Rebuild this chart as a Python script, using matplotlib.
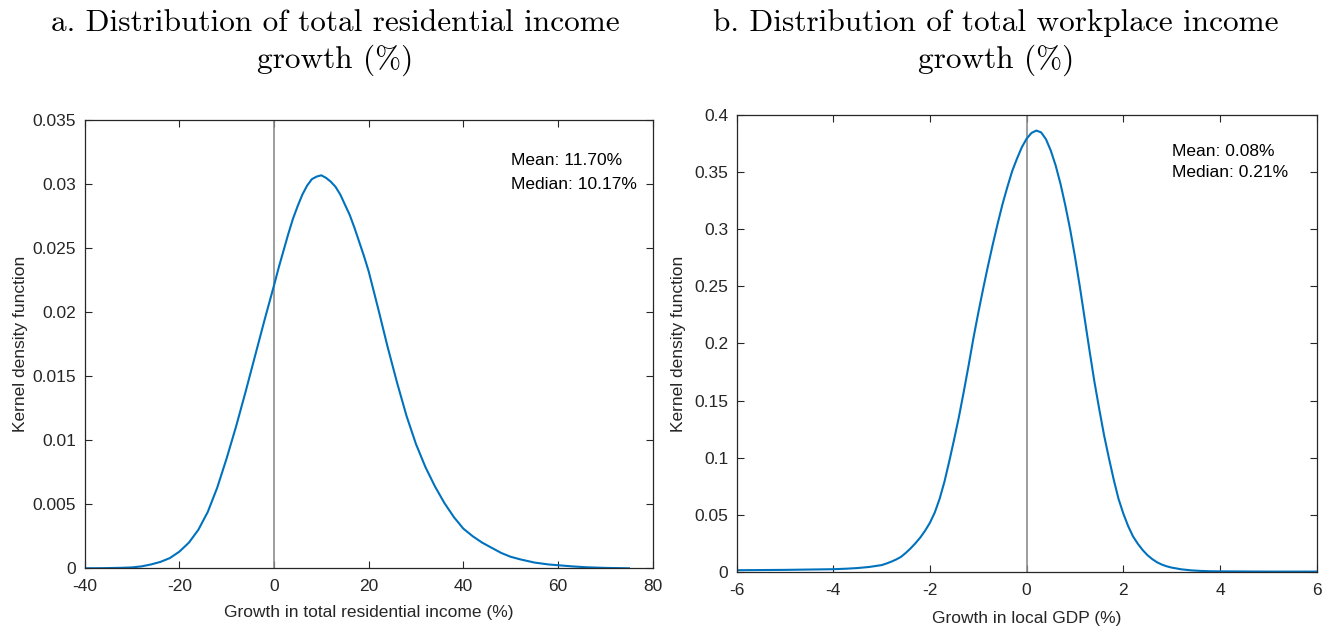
import numpy as np
import matplotlib
matplotlib.use('Agg')
import matplotlib.pyplot as plt
from matplotlib.ticker import FormatStrFormatter

# Left panel: kernel density of residential income growth (%)
res_x = [-40, -36, -32, -30, -28, -26, -24, -22, -20, -18, -16, -14, -12, -10, -8, -6,
         -4, -2, 0, 1, 2, 3, 4, 5, 6, 7, 8, 9, 10, 11, 12, 13, 14, 15, 16, 17, 18, 19,
         20, 22, 24, 26, 28, 30, 32, 34, 36, 38, 40, 42, 44, 46, 48, 50, 52, 55, 58,
         60, 63, 66, 70, 75]
res_y = [0.0, 0.00001, 0.00004, 0.00007, 0.00015, 0.0003, 0.0005, 0.0008, 0.0013,
         0.0020, 0.0030, 0.0044, 0.0063, 0.0086, 0.0111, 0.0138, 0.0166, 0.0194,
         0.0221, 0.0235, 0.0248, 0.0261, 0.0273, 0.0283, 0.0292, 0.0299, 0.0304,
         0.0306, 0.0307, 0.0305, 0.0302, 0.0298, 0.0292, 0.0284, 0.0276, 0.0266,
         0.0255, 0.0244, 0.0232, 0.0203, 0.0173, 0.0145, 0.0119, 0.0097, 0.0079,
         0.0064, 0.0051, 0.0040, 0.0031, 0.0025, 0.0020, 0.0016, 0.0012, 0.0009,
         0.0007, 0.00045, 0.0003, 0.00024, 0.00015, 0.00008, 0.00003, 0.0]
res_stats = ['Mean: 11.70%', 'Median: 10.17%']

# Right panel: kernel density of local GDP growth (%)
gdp_x = [-6, -5, -4.5, -4, -3.75, -3.5, -3.25, -3.0, -2.9, -2.8, -2.7, -2.6, -2.5,
         -2.4, -2.3, -2.2, -2.1, -2.0, -1.9, -1.8, -1.7, -1.6, -1.5, -1.4, -1.3, -1.2,
         -1.1, -1.0, -0.9, -0.8, -0.7, -0.6, -0.5, -0.4, -0.3, -0.2, -0.1, 0.0, 0.1,
         0.2, 0.3, 0.4, 0.5, 0.6, 0.7, 0.8, 0.9, 1.0, 1.1, 1.2, 1.3, 1.4, 1.5, 1.6,
         1.7, 1.8, 1.9, 2.0, 2.1, 2.2, 2.3, 2.4, 2.5, 2.6, 2.7, 2.8, 2.9, 3.0, 3.2,
         3.4, 3.6, 3.8, 4.0, 5.0, 6.0]
gdp_y = [0.0013, 0.0016, 0.0019, 0.0022, 0.0026, 0.0032, 0.0042, 0.0058, 0.0072,
         0.0088, 0.0107, 0.0130, 0.0165, 0.0205, 0.0250, 0.0300, 0.0360, 0.0430,
         0.0520, 0.0640, 0.0790, 0.0970, 0.1160, 0.1360, 0.1580, 0.1810, 0.2050,
         0.2270, 0.2480, 0.2680, 0.2870, 0.3050, 0.3220, 0.3370, 0.3510, 0.3620,
         0.3720, 0.3795, 0.3845, 0.3866, 0.3850, 0.3790, 0.3690, 0.3560, 0.3400,
         0.3210, 0.3000, 0.2760, 0.2500, 0.2220, 0.1940, 0.1670, 0.1430, 0.1200,
         0.1000, 0.0810, 0.0640, 0.0510, 0.0400, 0.0310, 0.0245, 0.0190, 0.0145,
         0.0110, 0.0082, 0.0062, 0.0047, 0.0036, 0.0021, 0.0012, 0.0007, 0.0004,
         0.0003, 0.0001, 0.0001]
gdp_stats = ['Mean: 0.08%', 'Median: 0.21%']

plt.rcParams['font.family'] = ['Liberation Sans', 'DejaVu Sans']
plt.rcParams['axes.unicode_minus'] = False

fig = plt.figure(figsize=(13.36, 6.32), dpi=100)
ax1 = fig.add_axes([0.0634, 0.1008, 0.4251, 0.7089])
ax2 = fig.add_axes([0.5514, 0.0954, 0.4341, 0.7222])

dark = '#262626'
blue = '#0072BD'


def style(ax):
    for s in ax.spines.values():
        s.set_color(dark)
        s.set_linewidth(0.9)
    ax.tick_params(direction='in', length=5, width=0.8, colors=dark,
                   labelsize=12.5, top=True, right=True)
    ax.tick_params(axis='x', pad=8)
    ax.tick_params(axis='y', pad=6)


# panel a
ax1.axvline(0, color='#8c8c8c', lw=1.2)
ax1.plot(res_x, res_y, color=blue, lw=1.5)
ax1.set_xlim(-40, 80)
ax1.set_ylim(0, 0.035)
ax1.set_xticks(np.arange(-40, 81, 20))
ax1.set_yticks(np.arange(0, 0.0351, 0.005))
ax1.yaxis.set_major_formatter(FormatStrFormatter('%g'))
style(ax1)
ax1.set_xlabel('Growth in total residential income (%)', fontsize=12.5, color=dark)
ax1.set_ylabel('Kernel density function', fontsize=12.5, color=dark)
ax1.xaxis.set_label_coords(0.5, -0.083)
ax1.yaxis.set_label_coords(-0.1, 0.5)
ax1.text(0.750, 0.883, '\n'.join(res_stats), transform=ax1.transAxes,
         fontsize=12.5, va='center', ha='left', linespacing=1.7, color='black')

# panel b
ax2.axvline(0, color='#8c8c8c', lw=1.2)
ax2.plot(gdp_x, gdp_y, color=blue, lw=1.5)
ax2.set_xlim(-6, 6)
ax2.set_ylim(0, 0.4)
ax2.set_xticks(np.arange(-6, 7, 2))
ax2.set_yticks(np.arange(0, 0.401, 0.05))
ax2.yaxis.set_major_formatter(FormatStrFormatter('%g'))
style(ax2)
ax2.set_xlabel('Growth in local GDP (%)', fontsize=12.5, color=dark)
ax2.set_ylabel('Kernel density function', fontsize=12.5, color=dark)
ax2.xaxis.set_label_coords(0.5, -0.086)
ax2.yaxis.set_label_coords(-0.088, 0.5)
ax2.text(0.751, 0.898, '\n'.join(gdp_stats), transform=ax2.transAxes,
         fontsize=12.5, va='center', ha='left', linespacing=1.55, color='black')

# titles in Computer Modern
fig.text(0.2507, 0.9320, 'a. Distribution of total residential income\ngrowth (%)',
         family='cmr10', fontsize=22.5, ha='center', va='center', linespacing=1.32)
fig.text(0.7455, 0.9320, 'b. Distribution of total workplace income\ngrowth (%)',
         family='cmr10', fontsize=22.5, ha='center', va='center', linespacing=1.32)

fig.savefig('out.png', dpi=100)
